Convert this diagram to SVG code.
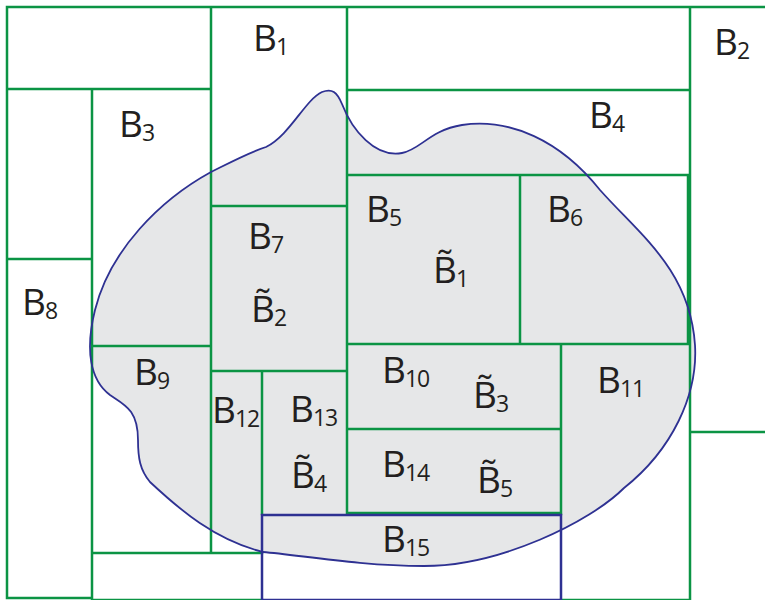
<svg xmlns="http://www.w3.org/2000/svg" width="765" height="600" viewBox="0 0 765 600">
<style>
.g{stroke:#0b9444;stroke-width:2.5;fill:none;stroke-linecap:square}
.b{stroke:#2e3192;stroke-width:2.5;fill:none}
.blob{fill:#e6e7e8;stroke:none}
.outl{fill:none;stroke:#2e3192;stroke-width:1.8}
.lb{font-family:"Open Sans","Noto Sans","Liberation Sans",sans-serif;font-size:37px;fill:#231f20}
.s{font-size:23px;letter-spacing:-1px}
</style>
<rect width="765" height="600" fill="#ffffff"/>
<g id="region">
<path id="blob-fill" class="blob" d="M266,147 C290,135 305,100 322,92 C332,88 337,92 342,104 C352,130 375,158 402,153 C420,150 430,130 462,125 C510,118 560,140 600,190 C640,235 690,270 695,345 C698,395 672,450 624,488 C590,522 500,566 424,566 C360,566 300,555 263,552 C215,540 180,510 150,482 C140,470 138,458 138,440 C138,410 125,405 110,395 C90,380 85,350 95,310 C110,250 160,200 211,172 C235,160 250,152 266,147 Z"/>
</g>
<g id="connectors">
<path class="g" d="M7,7 H765 M7,7 V598 M211,7 V553 M347,7 V514 M690,7 V600 M7,89 H211 M347,90 H690 M92,89 V600 M7,259 H92 M347,175 H688 M520,175 V344 M688,175 V344 M211,206 H347 M347,344 H690 M92,346 H211 M211,371 H347 M262,371 V514 M561,344 V514 M347,429 H561 M347,513 H561 M92,553 H262 M690,432 H765 M7,598 H92 M92,600 H262 M561,600 H690"/>
</g>
<g id="outline">
<path class="outl" d="M266,147 C290,135 305,100 322,92 C332,88 337,92 342,104 C352,130 375,158 402,153 C420,150 430,130 462,125 C510,118 560,140 600,190 C640,235 690,270 695,345 C698,395 672,450 624,488 C590,522 500,566 424,566 C360,566 300,555 263,552 C215,540 180,510 150,482 C140,470 138,458 138,440 C138,410 125,405 110,395 C90,380 85,350 95,310 C110,250 160,200 211,172 C235,160 250,152 266,147 Z"/>
</g>
<g id="B15-box"><path class="b" d="M262,600 V515 H561 V600 M262,600 H561"/></g>
<g id="labels">
<text id="B1" class="lb" x="253" y="51">B<tspan class="s" dx="-1" dy="4">1</tspan></text>
<text id="B2" class="lb" x="714" y="55">B<tspan class="s" dx="-1" dy="4">2</tspan></text>
<text id="B3" class="lb" x="119" y="137">B<tspan class="s" dx="-1" dy="4">3</tspan></text>
<text id="B4" class="lb" x="589" y="128">B<tspan class="s" dx="-1" dy="4">4</tspan></text>
<text id="B5" class="lb" x="366" y="222">B<tspan class="s" dx="-1" dy="4">5</tspan></text>
<text id="B6" class="lb" x="547" y="222">B<tspan class="s" dx="-1" dy="4">6</tspan></text>
<text id="B7" class="lb" x="248" y="249">B<tspan class="s" dx="-1" dy="4">7</tspan></text>
<text id="B8" class="lb" x="22" y="315">B<tspan class="s" dx="-1" dy="4">8</tspan></text>
<text id="B9" class="lb" x="134" y="385">B<tspan class="s" dx="-1" dy="4">9</tspan></text>
<text id="B10" class="lb" x="382" y="383">B<tspan class="s" dx="-1" dy="4">10</tspan></text>
<text id="B11" class="lb" x="597" y="393">B<tspan class="s" dx="-1" dy="4">11</tspan></text>
<text id="B12" class="lb" x="212" y="423">B<tspan class="s" dx="-1" dy="4">12</tspan></text>
<text id="B13" class="lb" x="290" y="422">B<tspan class="s" dx="-1" dy="4">13</tspan></text>
<text id="B14" class="lb" x="382" y="477">B<tspan class="s" dx="-1" dy="4">14</tspan></text>
<text id="B15" class="lb" x="382" y="552">B<tspan class="s" dx="-1" dy="4">15</tspan></text>
<text id="Bt1" class="lb" x="433" y="283">B&#x303;<tspan class="s" dx="-1" dy="4">1</tspan></text>
<text id="Bt2" class="lb" x="251" y="322">B&#x303;<tspan class="s" dx="-1" dy="4">2</tspan></text>
<text id="Bt3" class="lb" x="473" y="408">B&#x303;<tspan class="s" dx="-1" dy="4">3</tspan></text>
<text id="Bt4" class="lb" x="291" y="488">B&#x303;<tspan class="s" dx="-1" dy="4">4</tspan></text>
<text id="Bt5" class="lb" x="477" y="493">B&#x303;<tspan class="s" dx="-1" dy="4">5</tspan></text>
</g>
</svg>
